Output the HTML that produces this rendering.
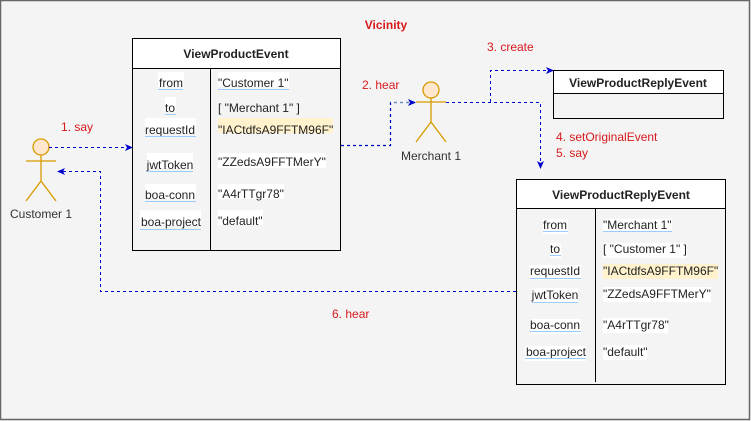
<!DOCTYPE html>
<html><head><meta charset="utf-8"><style>
html,body{margin:0;padding:0;background:#f5f5f5}
svg{display:block}
text{font-family:"Liberation Sans",Arial,sans-serif;font-size:12px}
.r{fill:#d7191c}
.k{fill:#222}
.bl{stroke:#99ccff;stroke-width:1}
</style></head><body>
<svg width="751" height="421" viewBox="0 0 751 421" xmlns="http://www.w3.org/2000/svg">
<defs>
<marker id="ar" markerWidth="8" markerHeight="8" refX="7" refY="4" orient="auto" markerUnits="userSpaceOnUse">
<path d="M0,0.5 L8,4 L0,7.5 L2,4 Z" fill="#0000cc"/>
</marker>
</defs>
<rect x="0.5" y="0.5" width="749" height="419" fill="#f4f4f4" stroke="#666" stroke-width="1.5"/>
<text x="386" y="29" text-anchor="middle" class="r" font-weight="bold">Vicinity</text>

<!-- Box 1 -->
<rect x="132.5" y="38.5" width="208" height="212" fill="#f4f4f4" stroke="#000"/>
<rect x="132.5" y="38.5" width="208" height="30" fill="#fff" stroke="#000"/>
<text x="236" y="58" text-anchor="middle" class="k" font-size="13" font-weight="bold">ViewProductEvent</text>
<line x1="210.5" y1="68" x2="210.5" y2="251" stroke="#000"/>
<g text-anchor="middle" class="k">
<rect x="158" y="72" width="26" height="15" fill="#fff"/><text x="171" y="87">from</text>
<rect x="165" y="97" width="11" height="15" fill="#fff"/><text x="170" y="112">to</text>
<rect x="145" y="118" width="51" height="15" fill="#fff"/><text x="170" y="134">requestId</text>
<rect x="147" y="153" width="46" height="15" fill="#fff"/><text x="170" y="169">jwtToken</text>
<rect x="145" y="184" width="51" height="15" fill="#fff"/><text x="170" y="199">boa-conn</text>
<rect x="140" y="210" width="61" height="15" fill="#fff"/><text x="171" y="226">boa-project</text>
</g>
<g class="bl"><line x1="158" y1="89.5" x2="183" y2="89.5"/><line x1="165" y1="114.5" x2="176" y2="114.5"/><line x1="145" y1="136.5" x2="196" y2="136.5"/><line x1="147" y1="171.5" x2="193" y2="171.5"/><line x1="145" y1="201.5" x2="196" y2="201.5"/><line x1="140" y1="229.5" x2="201" y2="229.5"/>
<line x1="218" y1="89.5" x2="289" y2="89.5"/></g>
<rect x="218" y="118" width="115" height="15" fill="#fff2cc"/>
<rect x="218" y="72" width="71" height="15" fill="#fff"/>
<rect x="218" y="153" width="108" height="15" fill="#fff"/>
<rect x="218" y="184" width="66" height="15" fill="#fff"/>
<rect x="218" y="210" width="45" height="15" fill="#fff"/>
<g class="k">
<text x="218" y="87">"Customer 1"</text>
<text x="218" y="112">[ "Merchant 1" ]</text>
<text x="218" y="134">"IACtdfsA9FFTM96F"</text>
<text x="218" y="166">"ZZedsA9FFTMerY"</text>
<text x="218" y="198">"A4rTTgr78"</text>
<text x="218" y="225">"default"</text>
</g>

<!-- Box 2 small -->
<rect x="553.5" y="70.5" width="170" height="48" fill="#f4f4f4" stroke="#000"/>
<rect x="553.5" y="70.5" width="170" height="23" fill="#fff" stroke="#000"/>
<text x="638" y="87" text-anchor="middle" class="k" font-weight="bold">ViewProductReplyEvent</text>

<!-- Box 3 -->
<rect x="516.5" y="179.5" width="209" height="205" fill="#f4f4f4" stroke="#000"/>
<rect x="516.5" y="179.5" width="209" height="29" fill="#fff" stroke="#000"/>
<text x="621" y="199" text-anchor="middle" class="k" font-size="13" font-weight="bold">ViewProductReplyEvent</text>
<line x1="595.5" y1="209" x2="595.5" y2="382" stroke="#000"/>
<g text-anchor="middle" class="k">
<rect x="543" y="219" width="25" height="15" fill="#fff"/><text x="555" y="229">from</text>
<rect x="550" y="243" width="11" height="15" fill="#fff"/><text x="555" y="253">to</text>
<rect x="530" y="265" width="51" height="15" fill="#fff"/><text x="555" y="275">requestId</text>
<rect x="532" y="288" width="46" height="15" fill="#fff"/><text x="555" y="299">jwtToken</text>
<rect x="530" y="319" width="51" height="15" fill="#fff"/><text x="555" y="329">boa-conn</text>
<rect x="525" y="346" width="61" height="15" fill="#fff"/><text x="556" y="356">boa-project</text>
</g>
<g class="bl"><line x1="543" y1="231.5" x2="568" y2="231.5"/><line x1="550" y1="255.5" x2="561" y2="255.5"/><line x1="530" y1="278.5" x2="581" y2="278.5"/><line x1="532" y1="302.5" x2="578" y2="302.5"/><line x1="530" y1="331.5" x2="581" y2="331.5"/><line x1="525" y1="358.5" x2="586" y2="358.5"/><line x1="603" y1="231.5" x2="672" y2="231.5"/></g>
<rect x="603" y="219" width="69" height="12" fill="#fff"/>
<rect x="603" y="243" width="84" height="15" fill="#fff"/>
<rect x="603" y="264" width="115" height="15" fill="#fff2cc"/>
<rect x="603" y="287" width="108" height="15" fill="#fff"/>
<rect x="603" y="318" width="65" height="15" fill="#fff"/>
<rect x="603" y="345" width="44" height="15" fill="#fff"/>
<g class="k">
<text x="603" y="229">"Merchant 1"</text>
<text x="603" y="253">[ "Customer 1" ]</text>
<text x="603" y="275">"IACtdfsA9FFTM96F"</text>
<text x="603" y="298">"ZZedsA9FFTMerY"</text>
<text x="603" y="329">"A4rTTgr78"</text>
<text x="603" y="356">"default"</text>
</g>

<!-- Actors -->
<g stroke="#d79b00" stroke-width="1.3" fill="none">
<circle cx="41" cy="147" r="8" fill="#ffe6cc"/>
<line x1="41" y1="155" x2="41" y2="181"/><line x1="26" y1="161" x2="56" y2="161"/>
<line x1="41" y1="181" x2="26" y2="201"/><line x1="41" y1="181" x2="56" y2="201"/>
<circle cx="431" cy="90" r="8" fill="#ffe6cc"/>
<line x1="431" y1="98" x2="431" y2="122"/><line x1="416" y1="102" x2="446" y2="102"/>
<line x1="431" y1="122" x2="416" y2="142"/><line x1="431" y1="122" x2="446" y2="142"/>
</g>
<text x="41" y="218" text-anchor="middle" fill="#333">Customer 1</text>
<text x="431" y="160" text-anchor="middle" fill="#333">Merchant 1</text>

<!-- Connectors -->
<g fill="none" stroke="#0000cc" stroke-dasharray="3,3" stroke-width="1">
<path d="M49,147.5 H132" marker-end="url(#ar)"/>
<path d="M516,291.5 H100.5 V171.5 H58" marker-end="url(#ar)"/>
<path d="M341,145.5 H390.5 V102.5 H415" marker-end="url(#ar)" stroke="#6c8ebf" stroke-width="1.5"/>
<path d="M446,102.5 H540.5 V168" marker-end="url(#ar)"/>
<path d="M490.5,102 V70.5 H553" marker-end="url(#ar)"/>
</g>
<path d="M341,145.5 H390.5 V102.5" fill="none" stroke="#0000cc" stroke-dasharray="3,3"/>

<text x="61" y="131" class="r">1. say</text>
<text x="362" y="89" class="r">2. hear</text>
<text x="487" y="51" class="r">3. create</text>
<text x="556" y="141" class="r">4. setOriginalEvent</text>
<text x="556" y="157" class="r">5. say</text>
<text x="332" y="318" class="r">6. hear</text>
</svg>
</body></html>
